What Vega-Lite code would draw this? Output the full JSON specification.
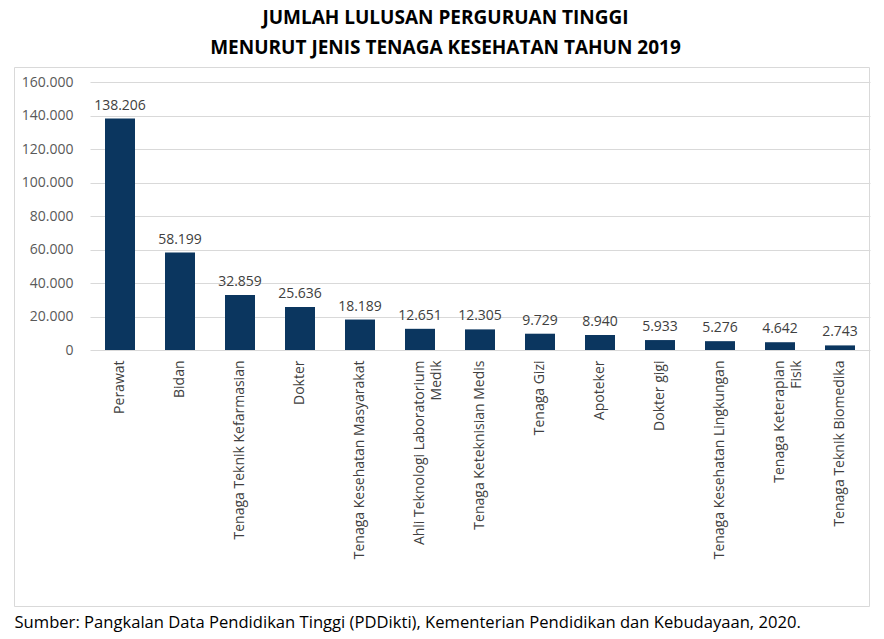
{
  "$schema": "https://vega.github.io/schema/vega-lite/v6.json",
  "width": 855,
  "height": 539,
  "autosize": {"type": "none"},
  "padding": {"left": 14, "top": 67, "right": 15, "bottom": 33},
  "title": {
    "text": ["JUMLAH LULUSAN PERGURUAN TINGGI", "MENURUT JENIS TENAGA KESEHATAN TAHUN 2019"],
    "font": "Open Sans",
    "fontSize": 19,
    "fontWeight": "bold",
    "color": "#000000",
    "lineHeight": 30,
    "anchor": "middle",
    "dx": 4,
    "offset": 9
  },
  "config": {
    "locale": {"number": {"decimal": ",", "thousands": ".", "grouping": [3], "currency": ["", ""]}},
    "view": {"stroke": "#d9d9d9", "strokeWidth": 1},
    "font": "Open Sans"
  },
  "data": {
    "values": [
      {"jenis": "Perawat", "jumlah": 138206},
      {"jenis": "Bidan", "jumlah": 58199},
      {"jenis": "Tenaga Teknik Kefarmasian", "jumlah": 32859},
      {"jenis": "Dokter", "jumlah": 25636},
      {"jenis": "Tenaga Kesehatan Masyarakat", "jumlah": 18189},
      {"jenis": "Ahli Teknologi Laboratorium Medik", "jumlah": 12651},
      {"jenis": "Tenaga Keteknisian Medis", "jumlah": 12305},
      {"jenis": "Tenaga Gizi", "jumlah": 9729},
      {"jenis": "Apoteker", "jumlah": 8940},
      {"jenis": "Dokter gigi", "jumlah": 5933},
      {"jenis": "Tenaga Kesehatan Lingkungan", "jumlah": 5276},
      {"jenis": "Tenaga Keterapian Fisik", "jumlah": 4642},
      {"jenis": "Tenaga Teknik Biomedika", "jumlah": 2743}
    ]
  },
  "encoding": {
    "x": {
      "field": "jenis",
      "type": "nominal",
      "sort": null,
      "scale": {"range": [76, 856], "paddingInner": 0.5, "paddingOuter": 0.25},
      "axis": {
        "orient": "bottom",
        "offset": -256,
        "labelAngle": -90,
        "labelAlign": "right",
        "labelBaseline": "middle",
        "labelPadding": 10,
        "labelLineHeight": 17,
        "ticks": false,
        "domain": false,
        "labelFont": "Open Sans",
        "labelFontSize": 14,
        "labelColor": "#404040",
        "labelLimit": 300,
        "labelExpr": "datum.label == 'Ahli Teknologi Laboratorium Medik' ? ['Ahli Teknologi Laboratorium', 'Medik'] : datum.label == 'Tenaga Keterapian Fisik' ? ['Tenaga Keterapian', 'Fisik'] : datum.label",
        "title": "Sumber: Pangkalan Data Pendidikan Tinggi (PDDikti), Kementerian Pendidikan dan Kebudayaan, 2020.",
        "titleFont": "Open Sans",
        "titleFontSize": 16.6,
        "titleFontWeight": "normal",
        "titleColor": "#000000",
        "titleAnchor": "start",
        "titleAlign": "left",
        "titleX": 0,
        "titleY": 272,
        "titleBaseline": "middle"
      }
    },
    "y": {
      "field": "jumlah",
      "type": "quantitative",
      "scale": {"domain": [0, 160000], "range": [283, 15]},
      "axis": {
        "values": [0, 20000, 40000, 60000, 80000, 100000, 120000, 140000, 160000],
        "format": ",d",
        "grid": true,
        "gridColor": "#d9d9d9",
        "domain": false,
        "ticks": false,
        "labelPadding": 17,
        "offset": -76,
        "title": null,
        "labelFont": "Open Sans",
        "labelFontSize": 14,
        "labelColor": "#595959"
      }
    }
  },
  "layer": [
    {"mark": {"type": "bar", "color": "#0B365F"}},
    {
      "mark": {"type": "text", "baseline": "bottom", "dy": -6, "fontSize": 14, "color": "#404040", "font": "Open Sans"},
      "encoding": {"text": {"field": "jumlah", "type": "quantitative", "format": ",d"}}
    }
  ]
}
